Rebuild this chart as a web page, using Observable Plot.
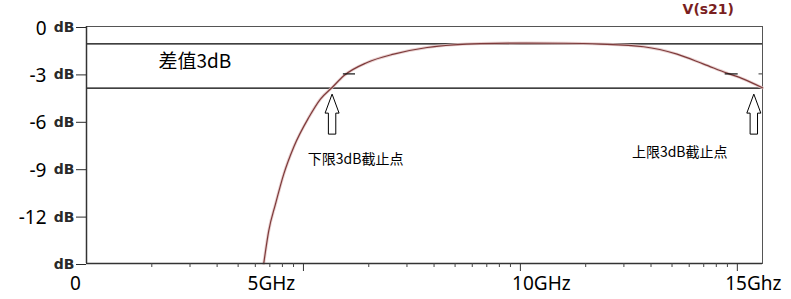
<!DOCTYPE html>
<html>
<head>
<meta charset="utf-8">
<script src="https://cdn.jsdelivr.net/npm/d3@7"></script>
<script src="https://cdn.jsdelivr.net/npm/@observablehq/plot@0.6"></script>
<style>
  html, body { margin: 0; padding: 0; background: #fff; }
</style>
</head>
<body>
<div id="chart"></div>
<script>
// ---- data ----
const freq = [4.085, 4.20, 4.355, 4.546, 4.777, 5.122, 5.392, 5.661, 5.929, 6.468, 7.081, 7.850, 8.463, 9.078, 10.0, 11.0, 11.843, 12.841, 13.611, 14.224, 14.763, 15.145, 15.58];
const gain = [-15.0, -12.93, -11.24, -9.34, -7.62, -5.76, -4.59, -3.86, -3.12, -2.28, -1.75, -1.33, -1.16, -1.08, -1.05, -1.06, -1.11, -1.28, -1.75, -2.38, -2.95, -3.33, -3.88];

const refLevels = [-1.1, -3.9];            // the two horizontal lines (3 dB apart)
const cutoffFreq = [5.66, 15.38];          // lower / upper 3 dB cut-off points
const cutoffLevel = -3.9;
const markerFrom = [5.92, 14.72];          // short -3 dB markers on the curve
const markerTo = [6.20, 15.02];
const markerLevel = -3;

const yTicks = [0, -3, -6, -9, -12, -15];
const yNumTicks = [0, -3, -6, -9, -12];
const xMajorTicks = [5, 10, 15];
const xTickLabels = ["0", "5GHz", "10GHz", "15Ghz"];
const xTickValues = [0, 5, 10, 15];

const seriesName = "V(s21)";
const notes = [
  {text: "差值3dB", x: 1.66, y: -2.23, size: 19},
  {text: "下限3dB截止点", x: 5.10, y: -8.44, size: 14},
  {text: "上限3dB截止点", x: 12.57, y: -7.99, size: 14}
];

// ---- derived tables ----
const curve = freq.map((f, i) => ({f, g: gain[i]}));
const markers = markerFrom.map((x1, i) => ({x1, x2: markerTo[i], y: markerLevel}));
const cutoffs = cutoffFreq.map(f => ({f, g: cutoffLevel}));
const minorTicks = [0, 5, 10].flatMap(b => [2, 3, 4, 5, 6, 7, 8, 9].map(m => b + 5 * Math.log10(m)));

// hollow up-arrow symbol, tip at origin
const hollowArrow = {
  draw(ctx) {
    ctx.moveTo(0, 0);
    ctx.lineTo(7, 19);
    ctx.lineTo(3.7, 19);
    ctx.lineTo(3.7, 40);
    ctx.lineTo(-3.7, 40);
    ctx.lineTo(-3.7, 19);
    ctx.lineTo(-7, 19);
    ctx.closePath();
  }
};

const labelShift = [-11, -32, 21, 16];
const numFont = "'Noto Sans', 'Open Sans', sans-serif";
const cjkFont = "'Noto Sans CJK SC', 'Noto Sans', sans-serif";

const chart = Plot.plot({
  width: 791,
  height: 299,
  marginTop: 26,
  marginRight: 29,
  marginBottom: 36,
  marginLeft: 86,
  x: {domain: [0, 15.58], axis: null},
  y: {domain: [-15, 0], axis: null},
  style: {background: "#fff", overflow: "visible"},
  marks: [
    Plot.frame({stroke: "#555", strokeWidth: 1}),
    Plot.ruleY(refLevels, {stroke: "#000", strokeWidth: 1.2}),
    // curve (halo + line)
    Plot.line(curve, {x: "f", y: "g", curve: "monotone-x", stroke: "#e2c4c4", strokeWidth: 3, strokeOpacity: 0.8}),
    Plot.line(curve, {x: "f", y: "g", curve: "monotone-x", stroke: "#7d3a3a", strokeWidth: 1.2}),
    Plot.ruleY(markers, {x1: "x1", x2: "x2", y: "y", stroke: "#111", strokeWidth: 1.2}),
    // axes lines
    Plot.ruleX([0], {stroke: "#333", strokeWidth: 1.5}),
    Plot.ruleY([-15], {stroke: "#333", strokeWidth: 1.5}),
    Plot.ruleY([markerLevel], {x1: 15.5, x2: 15.58, stroke: "#333"}),
    // y axis "dB" ticks
    Plot.axisY(yTicks, {tickSize: 10, tickPadding: 2, tickFormat: () => "dB", fontSize: 14, fontWeight: "bold", fontFamily: "'DejaVu Sans', sans-serif", color: "#2a2a2a", dy: 1}),
    // y axis numeric labels
    Plot.axisY(yNumTicks, {tickSize: 0, tickPadding: 40, tickFormat: d => String(d), fontSize: 19, fontFamily: numFont, color: "#000", dy: 2}),
    // x axis ticks
    Plot.axisX(minorTicks, {tickSize: 4, tickFormat: () => "", color: "#444"}),
    Plot.axisX(xMajorTicks, {tickSize: 8, tickFormat: () => "", color: "#333"}),
    ...xTickLabels.map((t, i) => Plot.text([t], {
      x: () => xTickValues[i], frameAnchor: "bottom", dy: 20, dx: labelShift[i],
      text: d => d, fontSize: 19, fontFamily: numFont, fill: "#000", lineAnchor: "middle"
    })),
    // arrows
    Plot.dot(cutoffs, {x: "f", y: "g", symbol: hollowArrow, r: 5, fill: "#fff", stroke: "#000", strokeWidth: 1, dy: 6}),
    // annotations
    ...notes.map(n => Plot.text([n], {x: "x", y: "y", text: "text", textAnchor: "start", fontSize: n.size, fontFamily: cjkFont, fill: "#000", lineAnchor: "middle"})),
    // series label
    Plot.text([seriesName], {x: () => 14.33, frameAnchor: "top", dy: -17, text: d => d, fontSize: 14, fontWeight: "bold", fontFamily: "'DejaVu Sans', sans-serif", fill: "#7a1f1f", lineAnchor: "middle"})
  ]
});

document.getElementById("chart").appendChild(chart);
</script>
</body>
</html>
